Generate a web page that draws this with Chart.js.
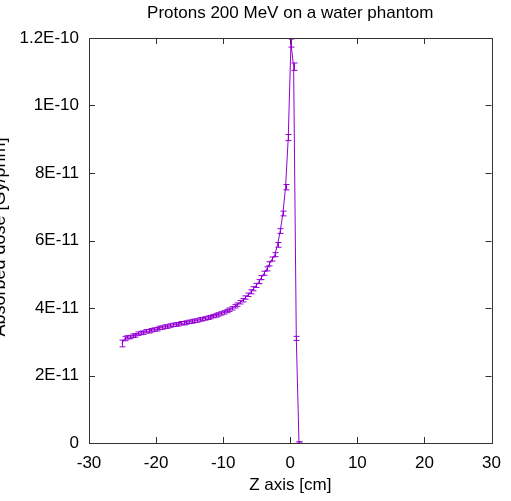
<!DOCTYPE html>
<html>
<head>
<meta charset="utf-8">
<script src="https://cdn.jsdelivr.net/npm/chart.js@4.4.0/dist/chart.umd.min.js"></script>
<style>
  html, body { margin: 0; padding: 0; background: #fff; }
</style>
</head>
<body>
<canvas id="myChart" width="511" height="501"></canvas>
<script>
// depth along the beam [cm]
const zPositions = [
  -25.1, -24.7, -24.3, -23.9, -23.5, -23.1, -22.7, -22.3, -21.9, -21.5,
  -21.1, -20.7, -20.3, -19.9, -19.5, -19.1, -18.7, -18.3, -17.9, -17.5,
  -17.1, -16.7, -16.3, -15.9, -15.5, -15.1, -14.7, -14.3, -13.9, -13.5,
  -13.1, -12.7, -12.3, -11.9, -11.5, -11.1, -10.7, -10.3, -9.9, -9.5,
  -9.1, -8.7, -8.3, -7.9, -7.5, -7.1, -6.7, -6.3, -5.9, -5.5,
  -5.1, -4.7, -4.3, -3.9, -3.5, -3.1, -2.7, -2.3, -1.9, -1.5,
  -1.1, -0.7, -0.3, 0.1, 0.5, 0.9, 1.3
];
// absorbed dose [Gy/prim]
const doseValues = [
  2.95e-11, 3.09e-11, 3.13e-11, 3.14e-11, 3.18e-11, 3.19e-11, 3.24e-11, 3.26e-11, 3.27e-11, 3.31e-11,
  3.31e-11, 3.34e-11, 3.36e-11, 3.37e-11, 3.41e-11, 3.42e-11, 3.45e-11, 3.45e-11, 3.48e-11, 3.50e-11,
  3.51e-11, 3.52e-11, 3.55e-11, 3.55e-11, 3.57e-11, 3.59e-11, 3.60e-11, 3.62e-11, 3.63e-11, 3.66e-11,
  3.67e-11, 3.69e-11, 3.71e-11, 3.73e-11, 3.76e-11, 3.78e-11, 3.81e-11, 3.84e-11, 3.87e-11, 3.91e-11,
  3.95e-11, 3.99e-11, 4.05e-11, 4.10e-11, 4.17e-11, 4.23e-11, 4.31e-11, 4.39e-11, 4.48e-11, 4.57e-11,
  4.67e-11, 4.78e-11, 4.90e-11, 5.03e-11, 5.16e-11, 5.31e-11, 5.45e-11, 5.58e-11, 5.87e-11, 6.28e-11,
  6.80e-11, 7.58e-11, 9.05e-11, 1.185e-10, 1.115e-10, 3.10e-11, 0.02e-11
];
// statistical error on the dose
const doseErrors = [
  0.10e-11, 0.06e-11, 0.05e-11, 0.05e-11, 0.05e-11, 0.05e-11, 0.05e-11, 0.05e-11, 0.05e-11, 0.05e-11,
  0.05e-11, 0.05e-11, 0.05e-11, 0.05e-11, 0.05e-11, 0.05e-11, 0.05e-11, 0.05e-11, 0.05e-11, 0.05e-11,
  0.05e-11, 0.05e-11, 0.05e-11, 0.05e-11, 0.05e-11, 0.05e-11, 0.05e-11, 0.05e-11, 0.05e-11, 0.05e-11,
  0.05e-11, 0.05e-11, 0.05e-11, 0.05e-11, 0.05e-11, 0.05e-11, 0.05e-11, 0.05e-11, 0.05e-11, 0.05e-11,
  0.05e-11, 0.05e-11, 0.05e-11, 0.05e-11, 0.05e-11, 0.05e-11, 0.05e-11, 0.05e-11, 0.06e-11, 0.06e-11,
  0.06e-11, 0.06e-11, 0.06e-11, 0.06e-11, 0.06e-11, 0.06e-11, 0.06e-11, 0.06e-11, 0.07e-11, 0.07e-11,
  0.07e-11, 0.08e-11, 0.09e-11, 0.12e-11, 0.11e-11, 0.06e-11, 0.02e-11
];

const xTickValues = [-30, -20, -10, 0, 10, 20, 30];
const yTickValues = [0, 2e-11, 4e-11, 6e-11, 8e-11, 1e-10, 1.2e-10];
const yTickLabels = ['0', '2E-11', '4E-11', '6E-11', '8E-11', '1E-10', '1.2E-10'];

const purple = '#9400d3';
const fontFamily = '"Liberation Sans", Arial, Helvetica, sans-serif';

// gnuplot-like box with inward ticks, error bars and the clipped y title
const gnuplotLook = {
  id: 'gnuplotLook',
  afterDatasetsDraw(chart) {
    const ctx = chart.ctx;
    const xs = chart.scales.x, ys = chart.scales.y;
    ctx.save();
    ctx.strokeStyle = purple;
    ctx.lineWidth = 1;
    zPositions.forEach((z, i) => {
      const px = Math.round(xs.getPixelForValue(z)) + 0.5;
      const top = ys.getPixelForValue(doseValues[i] + doseErrors[i]);
      const bot = ys.getPixelForValue(Math.max(0, doseValues[i] - doseErrors[i]));
      ctx.beginPath();
      ctx.moveTo(px, top); ctx.lineTo(px, bot);
      ctx.moveTo(px - 3, top); ctx.lineTo(px + 3, top);
      ctx.moveTo(px - 3, bot); ctx.lineTo(px + 3, bot);
      ctx.stroke();
    });
    ctx.restore();
  },
  afterDraw(chart) {
    const ctx = chart.ctx;
    const a = chart.chartArea;
    const xs = chart.scales.x, ys = chart.scales.y;
    ctx.save();
    ctx.strokeStyle = '#333';
    ctx.lineWidth = 1;
    ctx.strokeRect(Math.round(a.left) + 0.5, Math.round(a.top) + 0.5,
      Math.round(a.right - a.left), Math.round(a.bottom - a.top));
    ctx.beginPath();
    xTickValues.forEach(v => {
      const px = Math.round(xs.getPixelForValue(v)) + 0.5;
      ctx.moveTo(px, a.bottom); ctx.lineTo(px, a.bottom - 6);
      ctx.moveTo(px, a.top); ctx.lineTo(px, a.top + 6);
    });
    yTickValues.forEach(v => {
      const py = Math.round(ys.getPixelForValue(v)) + 0.5;
      ctx.moveTo(a.left, py); ctx.lineTo(a.left + 6, py);
      ctx.moveTo(a.right, py); ctx.lineTo(a.right - 6, py);
    });
    ctx.stroke();

    ctx.fillStyle = '#000';
    ctx.font = '18px ' + fontFamily;
    ctx.translate(5, 237);
    ctx.rotate(-Math.PI / 2);
    ctx.textAlign = 'center';
    ctx.textBaseline = 'alphabetic';
    ctx.fillText('Absorbed dose [Gy/prim]', 0, 0);
    ctx.restore();
  }
};

const ctx = document.getElementById('myChart').getContext('2d');
const myChart = new Chart(ctx, {
  type: 'line',
  data: {
    datasets: [{
      data: zPositions.map((z, i) => ({ x: z, y: doseValues[i] })),
      borderColor: purple,
      borderWidth: 1,
      pointRadius: 0,
      tension: 0,
      fill: false
    }]
  },
  options: {
    responsive: false,
    animation: false,
    layout: { padding: { left: 0, right: 18, top: 0, bottom: 0 } },
    plugins: {
      legend: { display: false },
      tooltip: { enabled: false },
      title: {
        display: true,
        text: 'Protons 200 MeV on a water phantom',
        color: '#000',
        font: { family: fontFamily, size: 17, weight: 'normal' },
        padding: { top: 3, bottom: 14.6 },
        fullSize: false
      }
    },
    scales: {
      x: {
        type: 'linear',
        min: -30,
        max: 30,
        afterBuildTicks: s => { s.ticks = xTickValues.map(v => ({ value: v })); },
        afterFit: s => { s.height = 58; },
        grid: { display: false, drawTicks: false },
        border: { display: false },
        ticks: { color: '#000', padding: 10, font: { family: fontFamily, size: 17 } },
        title: {
          display: true,
          text: 'Z axis [cm]',
          color: '#000',
          font: { family: fontFamily, size: 17 },
          padding: { top: 4, bottom: 5 }
        }
      },
      y: {
        min: 0,
        max: 1.2e-10,
        afterBuildTicks: s => { s.ticks = yTickValues.map(v => ({ value: v })); },
        afterFit: s => { s.width = 89; },
        grid: { display: false, drawTicks: false },
        border: { display: false },
        ticks: {
          color: '#000',
          padding: 10,
          font: { family: fontFamily, size: 17 },
          callback: (v, i) => yTickLabels[i]
        }
      }
    }
  },
  plugins: [gnuplotLook]
});
</script>
</body>
</html>
